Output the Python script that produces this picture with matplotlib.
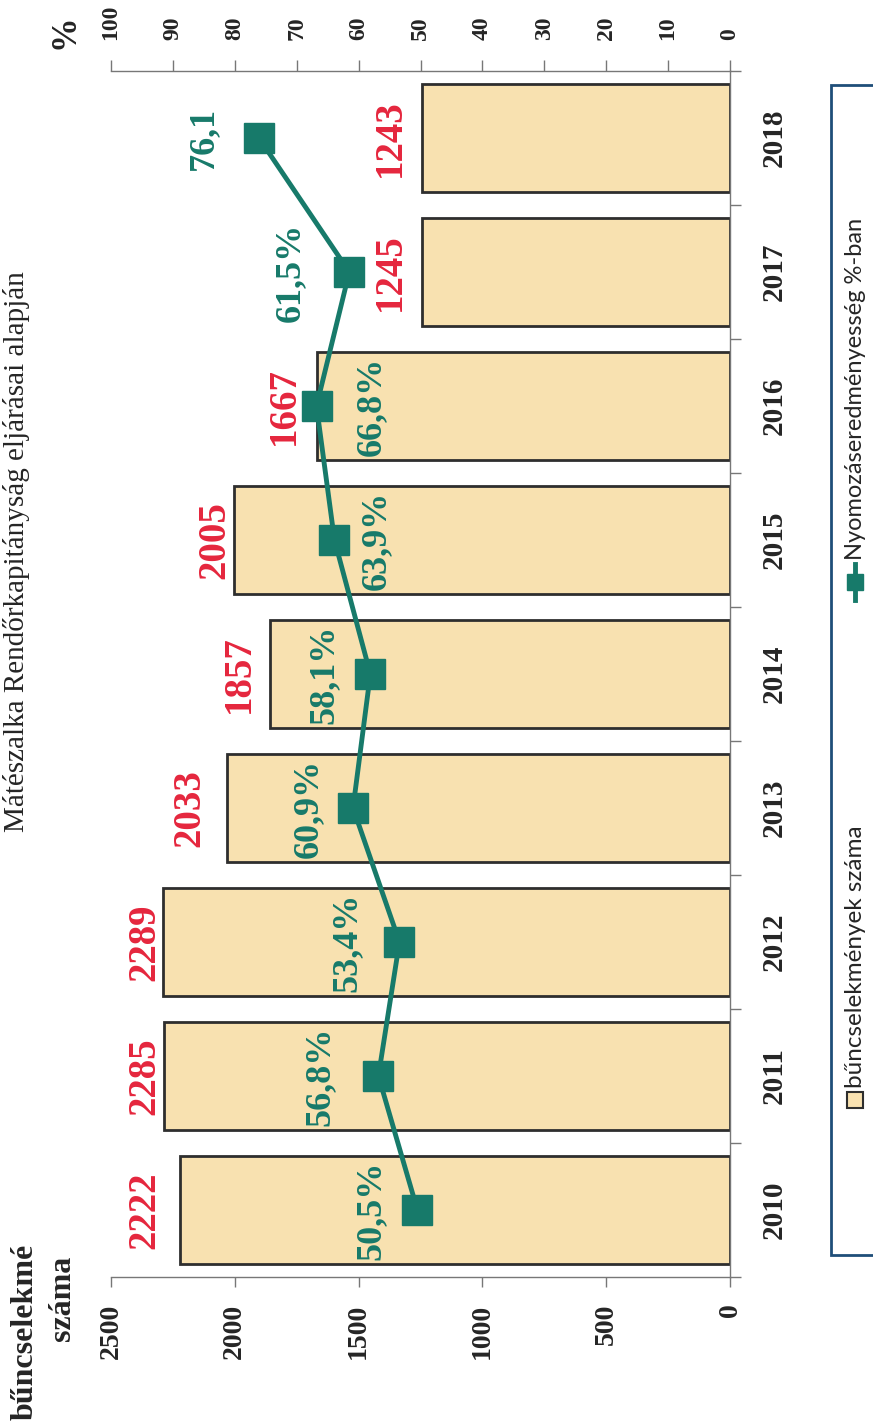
import matplotlib
matplotlib.use("Agg")
from matplotlib import pyplot as plt
from matplotlib.patches import Rectangle
from matplotlib.lines import Line2D
import numpy as np

# data
years = ["2010", "2011", "2012", "2013", "2014", "2015", "2016", "2017", "2018"]
crimes = [2222, 2285, 2289, 2033, 1857, 2005, 1667, 1245, 1243]
success_pct = [50.5, 56.8, 53.4, 60.9, 58.1, 63.9, 66.8, 61.5, 76.1]
pct_texts = ["50,5%", "56,8%", "53,4%", "60,9%", "58,1%", "63,9%", "66,8%", "61,5%", "76,1"]

# where the value labels sit (hand placed in the original)
crime_label_x = [2365, 2365, 2365, 2180, 1980, 2080, 1800, 1370, 1370]
pct_label_x = [58.0, 66.2, 61.8, 68.1, 65.5, 57.1, 58.0, 71.1, 85.0]

W, H = 873, 1425
BAR_FILL = "#F8E1B0"
BAR_EDGE = "#2e2e2e"
TEAL = "#177A6A"
RED = "#E5263D"
DARK = "#252525"
SERIF = "Liberation Serif"


def fx(x):
    return x / W


def fy(y):
    return 1 - y / H


fig = plt.figure(figsize=(W / 100, H / 100), dpi=100)
ax = fig.add_axes([fx(111), fy(1277), fx(730) - fx(111), fy(71) - fy(1277)])

pos = np.arange(len(years))
ax.barh(pos, crimes, height=0.8, color=BAR_FILL, edgecolor=BAR_EDGE, linewidth=2, zorder=2)
ax.set_xlim(2500, 0)
ax.set_ylim(-0.5, len(years) - 0.5)
ax.set_xticks(np.arange(0, 2501, 500))
ax.xaxis.set_ticks_position("bottom")
ax.tick_params(axis="x", direction="out", length=7, width=1, color="#777777", pad=12,
               labelrotation=90, labelsize=20, labelcolor=DARK)
for lab in ax.get_xticklabels():
    lab.set_fontfamily(SERIF)
    lab.set_fontweight("bold")

ax.yaxis.tick_right()
ax.set_yticks(pos)
ax.set_yticklabels(years)
ax.set_yticks(np.arange(-0.5, len(years), 1), minor=True)
ax.tick_params(axis="y", which="major", length=0, pad=22, labelrotation=90, labelsize=21,
               labelcolor=DARK)
ax.tick_params(axis="y", which="minor", length=8, width=1, color="#777777", direction="out")
for lab in ax.get_yticklabels():
    lab.set_fontfamily(SERIF)
    lab.set_fontweight("bold")
    lab.set_va("center")

for s in ["left", "top"]:
    ax.spines[s].set_visible(False)
for s in ["bottom", "right"]:
    ax.spines[s].set_color("#777777")
    ax.spines[s].set_linewidth(1)

for i, v in enumerate(crimes):
    ax.text(crime_label_x[i], pos[i], str(v), rotation=90, ha="center", va="center",
            color=RED, fontsize=28, fontfamily=SERIF, fontweight="bold", zorder=5)

# percentage axis on top
ax2 = ax.twiny()
ax2.set_xlim(100, 0)
ax2.set_xticks(np.arange(0, 101, 10))
ax2.tick_params(axis="x", direction="out", length=8, width=1, color="#777777", pad=14,
                labelrotation=90, labelsize=17, labelcolor=DARK)
for lab in ax2.get_xticklabels():
    lab.set_fontfamily(SERIF)
    lab.set_fontweight("bold")
for s in ["left", "right", "bottom"]:
    ax2.spines[s].set_visible(False)
ax2.spines["top"].set_color("#777777")
ax2.spines["top"].set_linewidth(1)

ax2.plot(success_pct, pos, color=TEAL, linewidth=3.5, marker="s", markersize=22,
         markerfacecolor=TEAL, markeredgecolor=TEAL, zorder=4)
for i, t in enumerate(pct_texts):
    ax2.text(pct_label_x[i], pos[i], t, rotation=90, ha="center", va="center",
             color=TEAL, fontsize=26, fontfamily=SERIF, fontweight="bold", zorder=5)

# titles and axis captions
fig.text(fx(17), fy(552), "Mátészalka Rendőrkapitányság eljárásai alapján", rotation=90,
         ha="center", va="center", fontsize=21, fontfamily=SERIF, color=DARK)
fig.text(fx(25), fy(1332), "bűncselekmé", rotation=90, ha="center", va="center",
         fontsize=23, fontfamily=SERIF, fontweight="bold", color=DARK)
fig.text(fx(63), fy(1298), "száma", rotation=90, ha="center", va="center",
         fontsize=23, fontfamily=SERIF, fontweight="bold", color=DARK)
fig.text(fx(65), fy(32), "%", rotation=90, ha="center", va="center",
         fontsize=25, fontfamily=SERIF, fontweight="bold", color=DARK)

# legend, drawn by hand since it is rotated
fig.patches.append(Rectangle((fx(831), fy(1255)), fx(W + 20) - fx(831), fy(85) - fy(1255),
                             transform=fig.transFigure, facecolor="white",
                             edgecolor="#1F4E79", linewidth=2))
fig.patches.append(Rectangle((fx(847), fy(1108)), fx(863) - fx(847), fy(1092) - fy(1108),
                             transform=fig.transFigure, facecolor=BAR_FILL,
                             edgecolor=BAR_EDGE, linewidth=1.5))
fig.text(fx(855), fy(1088), "bűncselekmények száma", rotation=90, ha="center", va="bottom",
         fontsize=17.5, fontfamily="Lato", color=DARK)
fig.lines.append(Line2D([fx(855), fx(855)], [fy(600), fy(564)], transform=fig.transFigure,
                        color=TEAL, linewidth=3.5))
fig.lines.append(Line2D([fx(855)], [fy(582)], transform=fig.transFigure, color=TEAL,
                        marker="s", markersize=11, linestyle="none"))
fig.text(fx(855), fy(560), "Nyomozáseredményesség %-ban", rotation=90, ha="center", va="bottom",
         fontsize=17, fontfamily="Lato", color=DARK)

fig.savefig("out.png", dpi=100, facecolor="white")
